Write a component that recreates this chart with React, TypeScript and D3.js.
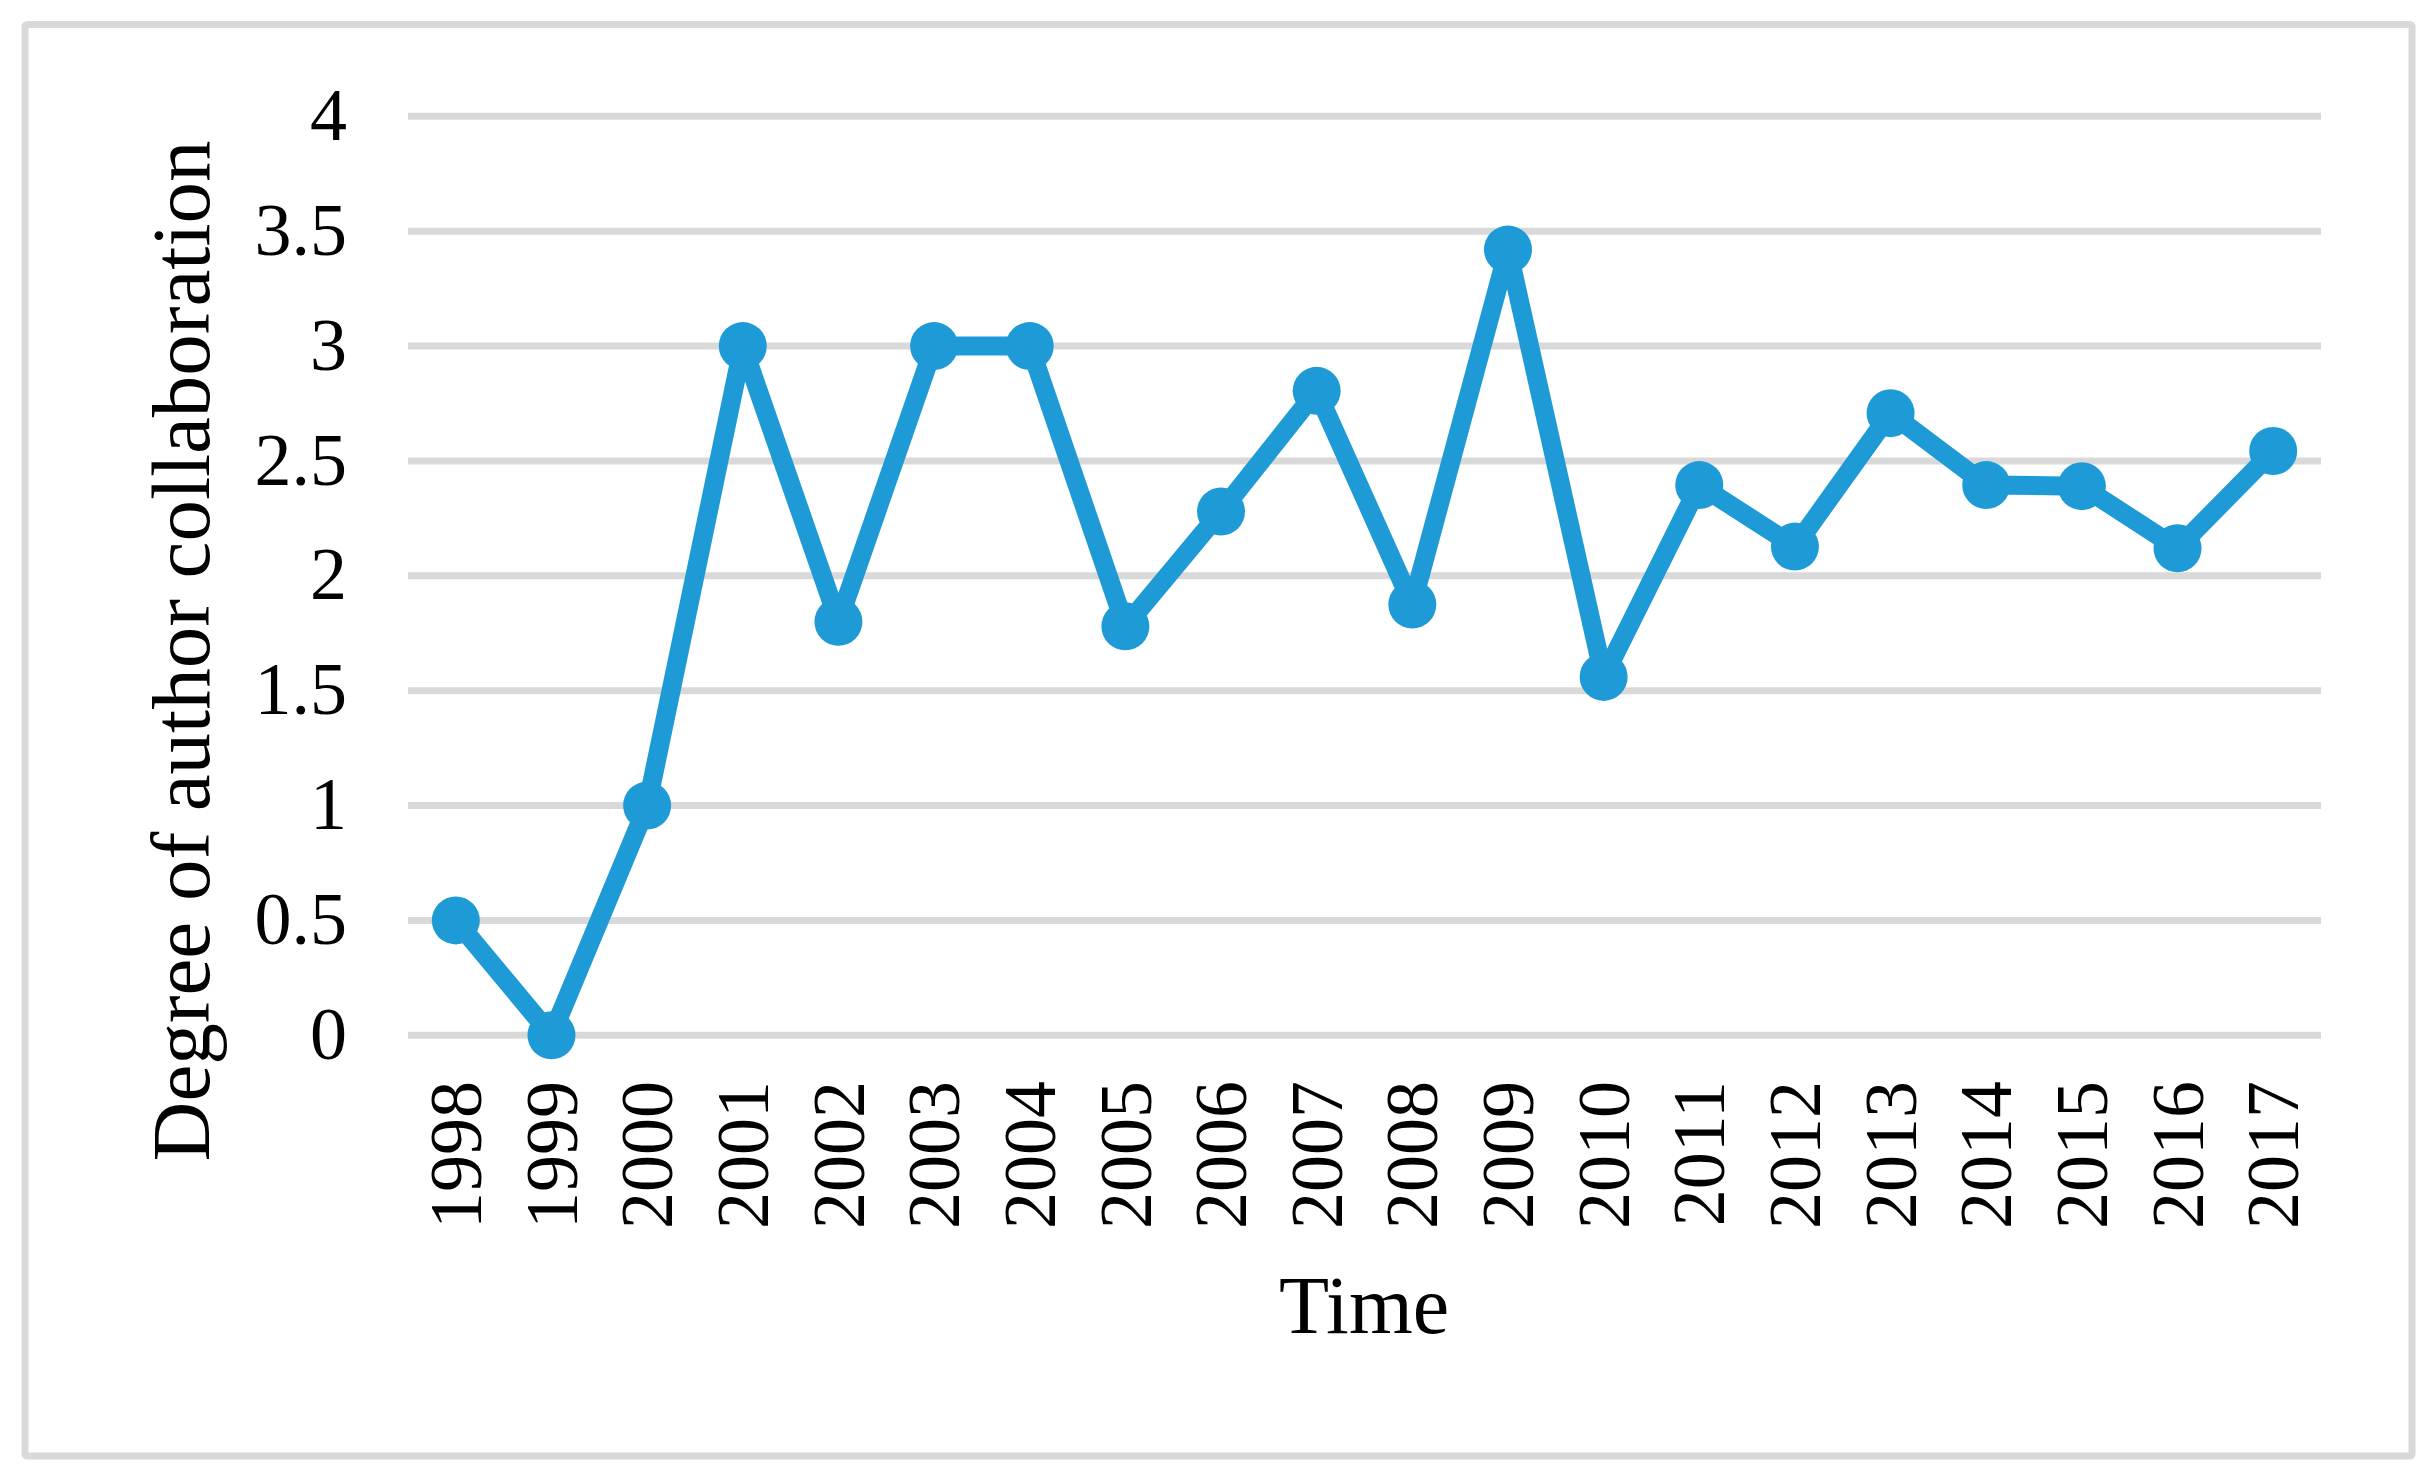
import React from "react";
import * as d3 from "d3";

const years = ["1998","1999","2000","2001","2002","2003","2004","2005","2006","2007","2008","2009","2010","2011","2012","2013","2014","2015","2016","2017"];
const values = [0.5, 0, 1.0, 3.0, 1.8, 3.0, 3.0, 1.78, 2.28, 2.805, 1.875, 3.42, 1.56, 2.395, 2.127, 2.708, 2.395, 2.39, 2.12, 2.543];
const yTicks = [0, 0.5, 1, 1.5, 2, 2.5, 3, 3.5, 4];
const yTickLabels = ["0", "0.5", "1", "1.5", "2", "2.5", "3", "3.5", "4"];
const xTitle = "Time";
const yTitle = "Degree of author collaboration";

const W = 2433;
const H = 1478;
const plotLeft = 408;
const plotRight = 2321;
const plotTop = 116.3;
const plotBottom = 1035.3;
const lineColor = "#1E9BD7";
const gridColor = "#D9D9D9";
const font = "'Liberation Serif', 'Times New Roman', serif";

export default function App() {
  const x = d3.scaleBand<string>().domain(years).range([plotLeft, plotRight]).padding(0);
  const y = d3.scaleLinear().domain([0, 4]).range([plotBottom, plotTop]);
  const cx = (yr: string) => (x(yr) as number) + x.bandwidth() / 2;
  const line = d3
    .line<number>()
    .x((_, i) => cx(years[i]))
    .y((d) => y(d));

  return (
    <svg
      width={W}
      height={H}
      viewBox={`0 0 ${W} ${H}`}
      style={{ position: "absolute", left: 0, top: 0, display: "block", background: "#fff" }}
    >
      <rect x={0} y={0} width={W} height={H} fill="#fff" />
      <rect x={25} y={24.5} width={2412 - 25} height={1456 - 24.5} fill="none" stroke={gridColor} strokeWidth={7} rx={2} />
      {yTicks.map((t, i) => (
        <g key={t}>
          <line x1={plotLeft} x2={plotRight} y1={y(t)} y2={y(t)} stroke={gridColor} strokeWidth={7} />
          <text
            x={347}
            y={y(t)}
            dy="0.32em"
            textAnchor="end"
            fontFamily={font}
            fontSize={74}
            fill="#000"
          >
            {yTickLabels[i]}
          </text>
        </g>
      ))}
      <path d={line(values) || ""} fill="none" stroke={lineColor} strokeWidth={19} strokeLinejoin="round" />
      {values.map((v, i) => (
        <circle key={years[i]} cx={cx(years[i])} cy={y(v)} r={24} fill={lineColor} />
      ))}
      {years.map((yr) => (
        <text
          key={yr}
          transform={`translate(${cx(yr)},${1081}) rotate(-90)`}
          dy="0.34em"
          textAnchor="end"
          fontFamily={font}
          fontSize={74}
          fill="#000"
        >
          {yr}
        </text>
      ))}
      <text x={1364} y={1333} textAnchor="middle" fontFamily={font} fontSize={82} fill="#000">
        {xTitle}
      </text>
      <text
        transform={`translate(209,651) rotate(-90)`}
        textAnchor="middle"
        fontFamily={font}
        fontSize={83}
        fill="#000"
      >
        {yTitle}
      </text>
    </svg>
  );
}
